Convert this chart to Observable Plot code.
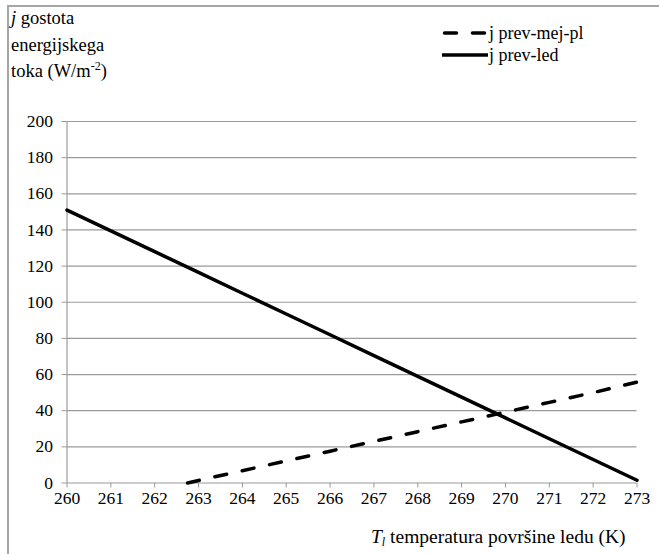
<!DOCTYPE html>
<html><head><meta charset="utf-8">
<script src="https://cdn.jsdelivr.net/npm/d3@7"></script>
<script src="https://cdn.jsdelivr.net/npm/@observablehq/plot@0.6"></script>
<style>
body{margin:0;background:#fff;}
#wrap{position:relative;width:659px;height:554px;overflow:hidden;font-family:'Liberation Serif','Times New Roman',serif;color:#000;}
#frame{position:absolute;left:7px;top:5px;width:700px;height:600px;border:2px solid #a6a6a6;box-sizing:border-box;}
#chart{position:absolute;left:0;top:0;}
#ylab{position:absolute;left:11px;top:5px;font-size:18.5px;line-height:26.5px;}
#xlab{position:absolute;left:371px;top:527px;font-size:19.5px;line-height:20px;white-space:nowrap;}
.leg{position:absolute;font-size:18px;line-height:20px;white-space:nowrap;}
sup{font-size:12px;vertical-align:7px;line-height:0;}
sub{font-size:12px;vertical-align:-3px;line-height:0;}
</style>
</head><body>
<div id="wrap">
  <div id="frame"></div>
  <div id="chart"></div>
  <div id="ylab"><i>j</i> gostota<br>energijskega<br>toka (W/m<sup>-2</sup>)</div>
  <div id="xlab"><i>T</i><sub><i>l</i></sub> temperatura površine ledu (K)</div>
  <svg style="position:absolute;left:0;top:0" width="659" height="80">
    <line x1="443" x2="485" y1="33" y2="33" stroke="#000" stroke-width="3.5" stroke-dasharray="12,16" stroke-linecap="round" transform="translate(1.5,0)"/>
    <line x1="442" x2="488" y1="55" y2="55" stroke="#000" stroke-width="3.5"/>
  </svg>
  <div class="leg" style="left:489px;top:23px">j prev-mej-pl</div>
  <div class="leg" style="left:489px;top:45px">j prev-led</div>
</div>
<script>
const xTicks = [260,261,262,263,264,265,266,267,268,269,270,271,272,273];
const yTicks = [0,20,40,60,80,100,120,140,160,180,200];

const tempsLed = [260,261,262,263,264,265,266,267,268,269,270,271,272,273];
const jPrevLed = [151,139.5,128,116.5,105,93.5,82,70.5,59,47.5,36,24.5,13,1.5];

const tempsMejPl = [262.75,263,264,265,266,267,268,269,270,271,272,273];
const jPrevMejPl = [0,1.4,6.8,12.2,17.6,23,28.4,33.8,39.2,44.6,50,55.8];

const led = tempsLed.map((t,i)=>({t, j:jPrevLed[i]}));
const mej = tempsMejPl.map((t,i)=>({t, j:jPrevMejPl[i]}));

const chart = Plot.plot({
  width:659, height:554,
  marginLeft:66.5, marginRight:22.5, marginTop:121, marginBottom:71.5,
  style:{fontFamily:"'Liberation Serif','Times New Roman',serif", fontSize:"17.5px", background:"transparent", color:"#000"},
  x:{domain:[260,273]},
  y:{domain:[0,200]},
  marks:[
    Plot.ruleY(yTicks.filter(d=>d>0), {stroke:"#9a9a9a", strokeWidth:1.2}),
    Plot.ruleY([0], {stroke:"#9a9a9a", strokeWidth:1.2}),
    Plot.ruleX([260], {stroke:"#9a9a9a", strokeWidth:1.2}),
    Plot.axisX({ticks:xTicks, tickFormat:d=>String(d), tickSize:5, tickPadding:4, stroke:"#9a9a9a", fill:"#000", label:null, fontSize:17.5}),
    Plot.axisY({ticks:yTicks, tickFormat:d=>String(d), tickSize:5, tickPadding:9, stroke:"#9a9a9a", fill:"#000", label:null, fontSize:17.5}),
    Plot.line(mej, {x:"t", y:"j", stroke:"#000", strokeWidth:3.5, strokeDasharray:"12,16", strokeLinecap:"round"}),
    Plot.line(led, {x:"t", y:"j", stroke:"#000", strokeWidth:3.5})
  ]
});
document.getElementById("chart").appendChild(chart);
</script>
</body></html>
